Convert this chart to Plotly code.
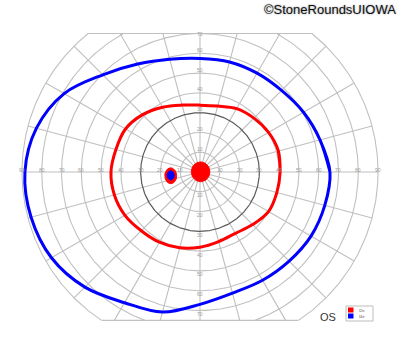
import numpy as np
import plotly.graph_objects as go

# ---------------- data (degrees of visual field) ----------------
meridians = list(range(0, 360, 15))          # math angle, 0 = right, 90 = up
i2e_radius = [40.5, 41, 40, 38.5, 37, 34.5, 33.8, 35, 37.8, 41, 43.5, 44,
              45, 44.8, 43.8, 42, 41, 39.7, 38, 36.4, 35.8, 37.6, 40, 40.2]
i4e_radius = [65.7, 62.8, 60.4, 58.3, 57.7, 57.6, 57.4, 59, 63, 69.5, 79.3, 85.6,
              88.5, 88.4, 86.7, 82.3, 76.3, 73.3, 66.9, 63.4, 63.2, 63.7, 64.8, 65.3]

# scotomas: centre (x, y) and semi-axes (rx, ry) in degrees
central_i2e = dict(cx=0.3, cy=0.1, rx=4.7, ry=5.0)
blind_i2e = dict(cx=-14.8, cy=-1.9, rx=3.0, ry=4.0)
blind_i4e = dict(cx=-14.8, cy=-1.7, rx=1.8, ry=2.3)

ring_values = [10, 20, 30, 40, 50, 60, 70, 80, 90]
spoke_angles = list(range(0, 360, 15))
top_limit = 70
bottom_limit = -75
legend_labels = ["I2e", "I4e"]
eye_label = "OS"
credit = "©StoneRoundsUIOWA"

RED = "#ff0000"
BLUE = "#0000ff"
GRID = "#c0c0c0"

# ---------------- helpers ----------------
def clip_path(xs, ys, ymin, ymax):
    ox, oy = [], []
    ins = lambda y: ymin <= y <= ymax
    for i in range(len(xs)):
        x, y = xs[i], ys[i]
        if i > 0:
            x0, y0 = xs[i - 1], ys[i - 1]
            a, b = ins(y0), ins(y)
            if a and not b:
                yb = ymax if y > ymax else ymin
                t = (yb - y0) / (y - y0)
                ox += [x0 + t * (x - x0), None]
                oy += [yb, None]
            elif b and not a:
                yb = ymax if y0 > ymax else ymin
                t = (yb - y0) / (y - y0)
                ox.append(x0 + t * (x - x0))
                oy.append(yb)
        if ins(y):
            ox.append(x)
            oy.append(y)
    return ox, oy


def polar_xy(angles, radii, close=True):
    a = np.radians(np.asarray(angles, float))
    r = np.asarray(radii, float)
    x = list(r * np.cos(a))
    y = list(r * np.sin(a))
    if close:
        x += x[:2]
        y += y[:2]
    return x, y


def ellipse(d, n=60):
    t = np.linspace(0, 2 * np.pi, n)
    return list(d["cx"] + d["rx"] * np.cos(t)), list(d["cy"] + d["ry"] * np.sin(t))


fig = go.Figure()

# rings
t = np.linspace(0, 2 * np.pi, 721)
gx, gy = [], []
for r in ring_values:
    if r == 30:
        continue
    cx, cy = clip_path(list(r * np.cos(t)), list(r * np.sin(t)), bottom_limit, top_limit)
    gx += cx + [None]
    gy += cy + [None]
# spokes
for ang in spoke_angles:
    s, c = np.sin(np.radians(ang)), np.cos(np.radians(ang))
    rend = 90.0
    if s > 1e-9:
        rend = min(rend, top_limit / s)
    elif s < -1e-9:
        rend = min(rend, -bottom_limit / -s)
    gx += [0, rend * c, None]
    gy += [0, rend * s, None]
# chords
for yl in (top_limit, bottom_limit):
    half = np.sqrt(90 ** 2 - yl ** 2)
    gx += [-half, half, None]
    gy += [yl, yl, None]
fig.add_trace(go.Scatter(x=gx, y=gy, mode="lines", line=dict(color=GRID, width=1.1),
                         hoverinfo="skip", showlegend=False))
fig.add_trace(go.Scatter(x=list(30 * np.cos(t)), y=list(30 * np.sin(t)), mode="lines",
                         line=dict(color="#5a5a5a", width=1.2), hoverinfo="skip", showlegend=False))

# central scotoma fill
ex, ey = ellipse(central_i2e)
fig.add_trace(go.Scatter(x=ex, y=ey, mode="lines", fill="toself", fillcolor=RED,
                         line=dict(color=RED, width=1), hoverinfo="skip", showlegend=False))

# isopters
x4, y4 = polar_xy(meridians, i4e_radius)
fig.add_trace(go.Scatter(x=x4, y=y4, mode="lines", line=dict(color=BLUE, width=3, shape="spline"),
                         name="I4e", showlegend=False))
x2, y2 = polar_xy(meridians, i2e_radius)
fig.add_trace(go.Scatter(x=x2, y=y2, mode="lines", line=dict(color=RED, width=3, shape="spline"),
                         name="I2e", showlegend=False))

# blind spot
bx, by = ellipse(blind_i2e)
fig.add_trace(go.Scatter(x=bx, y=by, mode="lines", fill="toself", fillcolor=RED,
                         line=dict(color=RED, width=1), hoverinfo="skip", showlegend=False))
bx, by = ellipse(blind_i4e)
fig.add_trace(go.Scatter(x=bx, y=by, mode="lines", fill="toself", fillcolor=BLUE,
                         line=dict(color=BLUE, width=1), hoverinfo="skip", showlegend=False))

# ring labels
ann = []
lab_font = dict(size=5, color="#9a9a9a", family="Liberation Sans, Arial")
for r in ring_values:
    for sx in (-1, 1):
        ann.append(dict(x=sx * r, y=1.2, text=str(r), showarrow=False, font=lab_font))
    if r + 1.8 <= top_limit:
        ann.append(dict(x=0, y=r + 1.8, text=str(r), showarrow=False, font=lab_font))
    elif r == top_limit:
        ann.append(dict(x=0, y=r - 0.3, text=str(r), showarrow=False, font=lab_font))
    if r + 1.8 <= -bottom_limit:
        ann.append(dict(x=0, y=-(r + 1.8), text=str(r), showarrow=False, font=lab_font))

# pixel -> paper helper (plot area: x 18..382, y 28..324)
def pp(px, py):
    return (px - 18) / 364.0, (324 - py) / 296.0

x0p, y0p = pp(346, 306)
x1p, y1p = pp(373, 321)
shapes = [dict(type="rect", xref="paper", yref="paper", x0=x0p, y0=y1p, x1=x1p, y1=y0p,
               line=dict(color="#bdbdbd", width=1), fillcolor="white")]
for i, col in enumerate([RED, BLUE]):
    a, b = pp(348, 307.5 + i * 6)
    c, d = pp(353.5, 312.5 + i * 6)
    shapes.append(dict(type="rect", xref="paper", yref="paper", x0=a, y0=d, x1=c, y1=b,
                       line=dict(width=0), fillcolor=col))
    tx, ty = pp(357, 310 + i * 6)
    ann.append(dict(xref="paper", yref="paper", x=tx, y=ty, text=legend_labels[i], showarrow=False,
                    xanchor="left", yanchor="middle",
                    font=dict(size=4, color="#555", family="Liberation Sans, Arial")))

ox, oy = pp(327.5, 317)
ann.append(dict(xref="paper", yref="paper", x=ox, y=oy, text=eye_label, showarrow=False,
                xanchor="center", yanchor="middle",
                font=dict(size=11, color="#333", family="Liberation Sans, Arial")))
cx_, cy_ = pp(398, 9.5)
ann.append(dict(xref="paper", yref="paper", x=cx_, y=cy_, text=credit, showarrow=False,
                xanchor="right", yanchor="middle",
                font=dict(size=13, color="#111", family="Liberation Sans, Arial",
                          shadow="0px 0px 2px #888")))

px_per_deg = 364 / 184.0
ytop = 144 / px_per_deg
ybot = ytop - 296 / px_per_deg

fig.update_layout(
    width=400, height=352,
    margin=dict(l=18, r=18, t=28, b=28),
    paper_bgcolor="white", plot_bgcolor="white",
    xaxis=dict(range=[-92, 92], visible=False, fixedrange=True),
    yaxis=dict(range=[ybot, ytop], visible=False, fixedrange=True),
    shapes=shapes, annotations=ann, showlegend=False,
)

fig.write_html("out.html")
